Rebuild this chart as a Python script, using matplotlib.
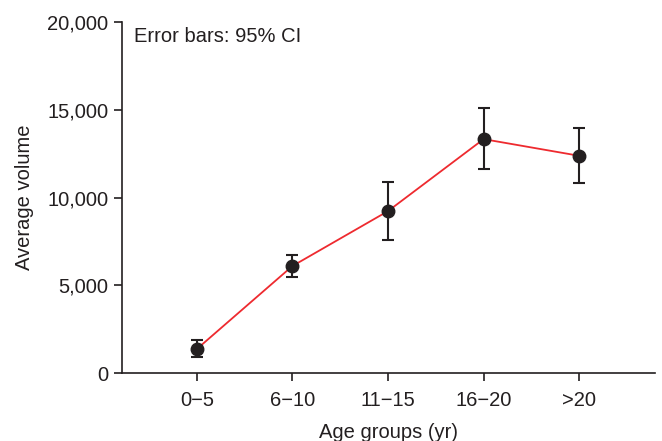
import numpy as np
import matplotlib.pyplot as plt

groups = ["0\u22125", "6\u221210", "11\u221215", "16\u221220", ">20"]
means = [1370, 6100, 9230, 13330, 12380]
ci_low = [910, 5470, 7560, 11600, 10830]
ci_high = [1880, 6720, 10900, 15080, 13960]

plt.rcParams['font.family'] = ['Liberation Sans', 'DejaVu Sans']
plt.rcParams['font.size'] = 14.5

fig = plt.figure(figsize=(6.62, 4.41), dpi=100)
ax = fig.add_axes([0.184, 0.154, 0.805, 0.796])

x = np.arange(len(groups))
means = np.array(means)
yerr = [means - np.array(ci_low), np.array(ci_high) - means]

ax.plot(x, means, color='#ee2a2f', lw=1.3, zorder=2)
ax.errorbar(x, means, yerr=yerr, fmt='o', color='#231f20', ms=9,
            ecolor='#231f20', elinewidth=1.5, capsize=4.5, capthick=1.5, zorder=3)

ax.set_xlim(-0.785, 4.79)
ax.set_ylim(0, 20000)
ax.set_xticks(x)
ax.set_xticklabels(groups)
ax.set_yticks([0, 5000, 10000, 15000, 20000])
ax.set_yticklabels(["0", "5,000", "10,000", "15,000", "20,000"])
for s in ['top', 'right']:
    ax.spines[s].set_visible(False)
for s in ['left', 'bottom']:
    ax.spines[s].set_linewidth(1.2)
    ax.spines[s].set_color('#231f20')
ax.tick_params(direction='out', length=6, width=1.2, color='#231f20', labelcolor='#231f20')
ax.tick_params(axis='x', pad=7)
ax.set_xlabel("Age groups (yr)", color='#231f20', labelpad=9)
ax.set_ylabel("Average volume", color='#231f20', labelpad=10)
ax.text(0.022, 0.985, "Error bars: 95% CI", transform=ax.transAxes, va='top', ha='left', color='#231f20')

fig.savefig("out.png", dpi=100)
